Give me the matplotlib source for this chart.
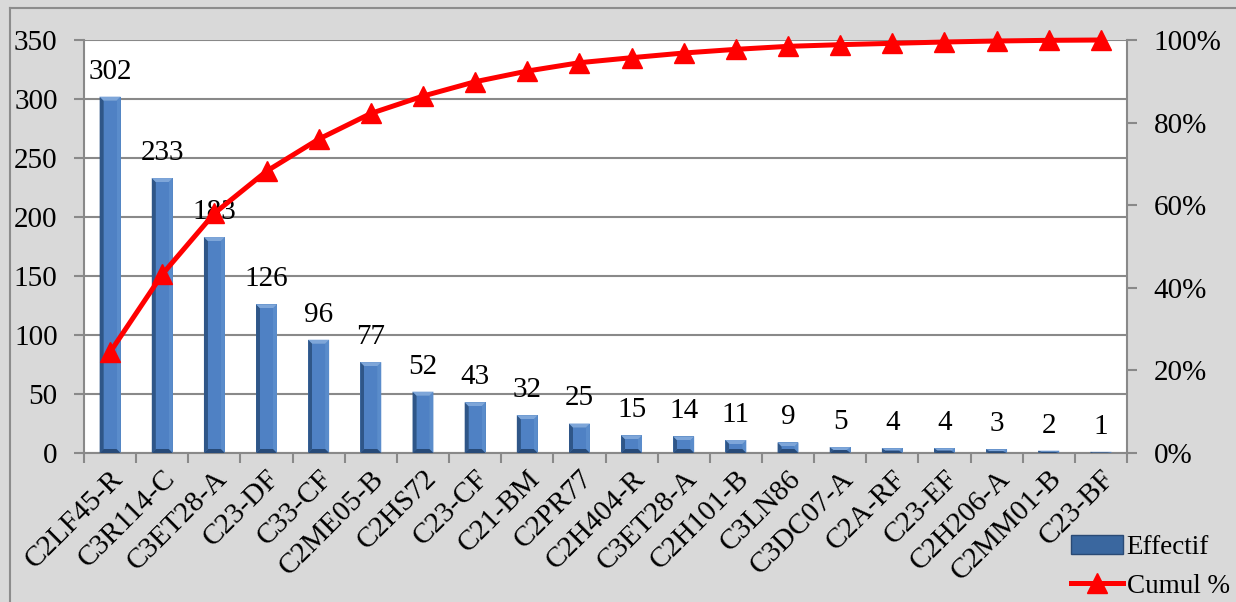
import numpy as np
import matplotlib
matplotlib.use("Agg")
import matplotlib.pyplot as plt
from matplotlib.patches import Polygon
from matplotlib.lines import Line2D
from matplotlib.patches import Patch

categories = ["C2LF45-R", "C3R114-C", "C3ET28-A", "C23-DF", "C33-CF", "C2ME05-B",
              "C2HS72", "C23-CF", "C21-BM", "C2PR77", "C2H404-R", "C3ET28-A",
              "C2H101-B", "C3LN86", "C3DC07-A", "C2A-RF", "C23-EF", "C2H206-A",
              "C2MM01-B", "C23-BF"]
effectif = [302, 233, 183, 126, 96, 77, 52, 43, 32, 25, 15, 14, 11, 9, 5, 4, 4, 3, 2, 1]
left_ticks = [0, 50, 100, 150, 200, 250, 300, 350]
right_ticks = [0, 20, 40, 60, 80, 100]

cumul_pct = np.cumsum(effectif) / np.sum(effectif) * 100

plt.rcParams["font.family"] = ["Liberation Serif", "DejaVu Serif"]
FS = 21
GRID = "#898989"
BG = "#d9d9d9"

W, H = 1236, 602
fig = plt.figure(figsize=(W / 100, H / 100), dpi=100, facecolor=BG)

# chart frame (left and top edges)
fig.add_artist(Line2D([10 / W, 10 / W], [0, 1 - 8 / H], transform=fig.transFigure,
                      color="#8c8c8c", lw=1.5))
fig.add_artist(Line2D([10 / W, 1], [1 - 8 / H, 1 - 8 / H], transform=fig.transFigure,
                      color="#8c8c8c", lw=1.5))

x0, x1, y_top, y_bot = 84, 1127, 40, 453
ax = fig.add_axes([x0 / W, 1 - y_bot / H, (x1 - x0) / W, (y_bot - y_top) / H])
ax.set_facecolor("white")

n = len(categories)
x = np.arange(n)
bw = 0.4

ax.set_xlim(-0.5, n - 0.5)
ax.set_ylim(0, 350)
ax.set_yticks(left_ticks)
ax.yaxis.grid(True, color=GRID, lw=1.5)
ax.set_axisbelow(True)

bars = ax.bar(x, effectif, width=bw, color="#4f81bd", zorder=2)

# bevelled look on each bar
px_x = n / (x1 - x0)            # data units per pixel (x)
px_y = 350 / (y_bot - y_top)    # data units per pixel (y)
bx = 4 * px_x
for xi, h in zip(x, effectif):
    l, r = xi - bw / 2, xi + bw / 2
    by = min(4 * px_y, h / 2)
    bxx = min(bx, bw / 2)
    il, ir, ib, it = l + bxx, r - bxx, by, h - by
    faces = [
        ([(l, 0), (l, h), (il, it), (il, ib)], "#2f5688"),    # left
        ([(r, 0), (r, h), (ir, it), (ir, ib)], "#5a8ccb"),    # right
        ([(l, h), (r, h), (ir, it), (il, it)], "#7ea6d9"),    # top
        ([(l, 0), (r, 0), (ir, ib), (il, ib)], "#274a78"),    # bottom
        ([(il, ib), (ir, ib), (ir, it), (il, it)], "#4f81c4"),  # face
    ]
    for pts, c in faces:
        ax.add_patch(Polygon(pts, closed=True, facecolor=c, edgecolor="none", zorder=3))

for xi, h in zip(x, effectif):
    ax.annotate(str(h), (xi, h), xytext=(0, 13), textcoords="offset points",
                ha="center", va="baseline", fontsize=FS, zorder=4)

for s in ["top", "right"]:
    ax.spines[s].set_visible(False)
for s in ["left", "bottom"]:
    ax.spines[s].set_color(GRID)
    ax.spines[s].set_linewidth(1.5)

ax.set_xticks(x)
ax.set_xticklabels(categories, rotation=45, ha="right", rotation_mode="anchor",
                   fontsize=FS)
ax.tick_params(axis="x", length=0, pad=9)
ax.set_xticks(np.arange(n + 1) - 0.5, minor=True)
ax.tick_params(axis="x", which="minor", length=7, width=1.5, color=GRID, direction="out")
ax.tick_params(axis="y", length=7, width=1.5, color=GRID, labelsize=FS, pad=12)

ax2 = ax.twinx()
ax2.set_ylim(0, 100)
ax2.set_yticks(right_ticks)
ax2.set_yticklabels([f"{v}%" for v in right_ticks])
ax2.tick_params(axis="y", length=7, width=1.5, color=GRID, labelsize=FS, pad=12)
for s in ["top", "left", "bottom"]:
    ax2.spines[s].set_visible(False)
ax2.spines["right"].set_color(GRID)
ax2.spines["right"].set_linewidth(1.5)
ax2.plot(x, cumul_pct, color="#ff0000", lw=3.6, marker="^", markersize=14,
         clip_on=False, zorder=5)

handles = [Patch(facecolor="#3a679f", edgecolor="#2a4a75"),
           Line2D([], [], color="#ff0000", lw=3.6, marker="^", markersize=14)]
fig.legend(handles, ["Effectif", "Cumul %"], loc="lower right",
           bbox_to_anchor=(1 + 18 / W, -21 / H), frameon=False, fontsize=19.5,
           handlelength=1.9, handletextpad=0.15, labelspacing=0.5)

fig.savefig("out.png", dpi=100, facecolor=BG)
